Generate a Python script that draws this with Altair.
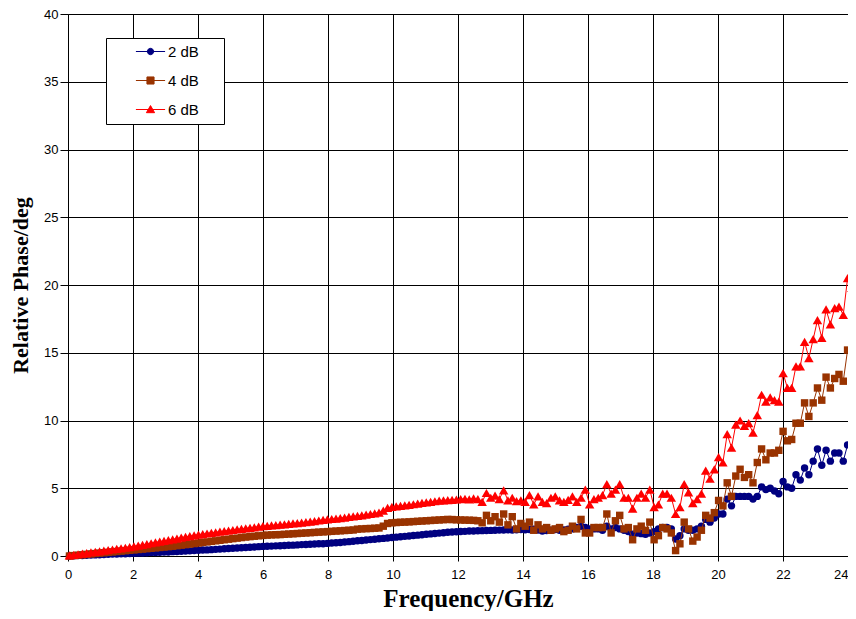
import altair as alt
import pandas as pd

# Frequency sweep: 45 MHz start, 0.132275 GHz step (VNA sweep grid)
F0 = 0.045
DF = 0.132275

series_names = ["2 dB", "4 dB", "6 dB"]
colors = ["#000080", "#993300", "#FF0000"]
shapes = ["circle", "square", "triangle-up"]
marker_sizes = [55, 55, 90]

phase_2db = [
    0.0, 0.01, 0.03, 0.04, 0.05, 0.07, 0.08, 0.09, 0.11, 0.12,
    0.14, 0.15, 0.16, 0.17, 0.19, 0.2, 0.21, 0.22, 0.24, 0.25,
    0.26, 0.28, 0.29, 0.3, 0.32, 0.33, 0.35, 0.36, 0.38, 0.4,
    0.42, 0.44, 0.45, 0.47, 0.49, 0.51, 0.53, 0.55, 0.57, 0.59,
    0.61, 0.63, 0.65, 0.67, 0.69, 0.71, 0.72, 0.73, 0.75, 0.76,
    0.77, 0.79, 0.8, 0.82, 0.84, 0.85, 0.87, 0.88, 0.9, 0.91,
    0.93, 0.96, 0.98, 1.0, 1.03, 1.06, 1.09, 1.12, 1.15, 1.18,
    1.21, 1.24, 1.27, 1.3, 1.33, 1.36, 1.39, 1.42, 1.45, 1.48,
    1.51, 1.54, 1.57, 1.6, 1.63, 1.66, 1.69, 1.72, 1.75, 1.77,
    1.79, 1.81, 1.82, 1.84, 1.85, 1.86,
    1.87, 1.88, 1.89, 1.9, 1.91, 1.92, 1.93, 1.92, 1.94, 1.95,
    1.93, 1.95, 1.97, 1.92, 1.85, 1.88, 1.9, 1.95, 1.9, 1.93,
    1.97, 2.0, 2.1,
    2.2, 2.1, 2.0, 2.0, 2.0, 1.9, 2.2, 2.0, 2.1, 2.0,
    1.9, 1.8, 1.6, 1.7, 1.65, 1.6, 1.7, 1.8, 2.0, 2.1,
    2.1, 2.0, 1.25, 1.5, 2.0, 1.9, 1.9, 2.0, 2.2, 2.7,
    2.5, 2.8, 3.1, 3.1, 4.2, 3.7, 4.4, 4.4, 4.4, 4.4,
    4.2, 4.4,
    5.1, 4.9, 5.0, 4.8, 4.6, 5.5, 5.1, 5.0, 6.0, 5.6,
    6.5, 6.0, 7.0, 7.9, 6.7, 7.8, 7.0, 7.6, 7.6, 7.0,
    8.2, 7.4,
]

phase_4db = [
    0.0, 0.03, 0.06, 0.09, 0.12, 0.15, 0.18, 0.21, 0.24, 0.27,
    0.3, 0.33, 0.36, 0.39, 0.42, 0.45, 0.48, 0.51, 0.54, 0.57,
    0.6, 0.63, 0.66, 0.69, 0.72, 0.76, 0.8, 0.84, 0.88, 0.92,
    0.96, 1.0, 1.04, 1.08, 1.12, 1.16, 1.2, 1.24, 1.28, 1.32,
    1.36, 1.4, 1.43, 1.46, 1.49, 1.52, 1.54, 1.56, 1.57, 1.58,
    1.6, 1.62, 1.64, 1.66, 1.68, 1.7, 1.72, 1.74, 1.76, 1.78,
    1.8, 1.82, 1.84, 1.86, 1.88, 1.9, 1.92, 1.98, 2.0, 2.02,
    2.03, 2.05, 2.07, 2.2, 2.4, 2.45, 2.47, 2.49, 2.5, 2.52,
    2.54, 2.56, 2.58, 2.6, 2.62, 2.64, 2.66, 2.68, 2.7, 2.69,
    2.67, 2.66, 2.65, 2.64, 2.63, 2.6,
    2.45, 3.0, 2.6, 2.9, 2.5, 3.1, 2.3, 2.9, 2.0, 2.4,
    2.2, 2.5, 1.9, 2.3, 2.0, 2.1, 1.9, 2.0, 2.1, 1.8,
    1.9, 2.2, 2.0,
    2.7, 1.7, 1.7, 2.1, 2.1, 2.1, 3.1, 1.7, 2.6, 3.0,
    2.0, 2.1, 1.2, 2.0, 2.2, 1.9, 2.5, 1.2, 1.5, 2.1,
    2.0, 1.7, 0.4, 0.9, 2.5, 2.0, 1.1, 1.4, 1.9, 3.0,
    2.8, 3.2, 4.1, 3.7, 5.4, 4.4, 5.9, 6.4, 5.8, 6.0,
    5.4, 6.9,
    7.9, 7.1, 7.6, 7.6, 7.8, 9.2, 8.5, 8.6, 9.8, 9.8,
    11.3, 10.3, 11.3, 12.4, 11.5, 13.2, 12.4, 13.1, 13.4, 12.9,
    15.2, 14.9,
]

phase_6db = [
    0.05, 0.09, 0.13, 0.17, 0.21, 0.26, 0.3, 0.34, 0.39, 0.43,
    0.48, 0.52, 0.57, 0.61, 0.66, 0.71, 0.76, 0.82, 0.88, 0.94,
    1.0, 1.06, 1.12, 1.17, 1.23, 1.29, 1.35, 1.41, 1.47, 1.52,
    1.57, 1.62, 1.66, 1.71, 1.75, 1.8, 1.84, 1.88, 1.92, 1.96,
    2.0, 2.04, 2.08, 2.12, 2.16, 2.2, 2.23, 2.26, 2.28, 2.31,
    2.34, 2.37, 2.4, 2.43, 2.46, 2.5, 2.54, 2.58, 2.62, 2.66,
    2.7, 2.73, 2.76, 2.8, 2.84, 2.88, 2.92, 2.96, 3.0, 3.05,
    3.1, 3.15, 3.2, 3.35, 3.55, 3.62, 3.67, 3.7, 3.74, 3.78,
    3.82, 3.87, 3.92, 3.96, 4.0, 4.04, 4.08, 4.11, 4.13, 4.15,
    4.17, 4.2, 4.22, 4.18, 4.25, 4.2,
    4.0, 4.65, 4.3, 4.45, 4.2, 4.85, 4.1, 4.3, 4.05, 4.1,
    4.0, 4.5, 3.8, 4.4, 4.0, 3.9, 4.3, 4.4, 4.1, 4.0,
    4.15, 4.4, 4.0,
    4.3, 4.9, 3.8, 4.2, 4.3, 4.5, 5.3, 4.6, 4.9, 5.3,
    4.3, 4.3, 3.5, 4.3, 4.6, 4.3, 4.9, 3.6, 3.8, 4.6,
    4.6, 4.3, 3.1, 3.6, 5.3, 4.7, 3.9, 4.2, 4.6, 6.3,
    5.7, 6.4, 7.3, 6.9, 9.0, 8.0, 9.7, 10.0, 9.6, 9.8,
    9.1, 10.4,
    11.9, 11.4, 11.7, 11.5, 11.4, 13.5, 12.4, 12.4, 14.0, 14.0,
    15.8, 14.6, 16.0, 17.4, 16.1, 18.2, 17.1, 18.3, 18.4, 17.8,
    20.5, 19.8,
]

x_ticks = list(range(0, 25, 2))
y_ticks = list(range(0, 41, 5))

n = len(phase_2db)
freq = [round(F0 + DF * i, 4) for i in range(n)]

rows = []
for name, vals in zip(series_names, [phase_2db, phase_4db, phase_6db]):
    for f, v in zip(freq, vals):
        rows.append({"f": f, "phase": v, "series": name})
df = pd.DataFrame(rows)

x_enc = alt.X(
    "f:Q",
    scale=alt.Scale(domain=[0, 24], nice=False, zero=False),
    axis=alt.Axis(
        title="Frequency/GHz", values=x_ticks, format="d",
        grid=True, gridColor="black", gridWidth=1, gridOpacity=1,
        domainColor="black", domainWidth=1,
        tickColor="black", tickSize=5, tickWidth=1,
        labelFont="Liberation Sans", labelFontSize=13, labelColor="black",
        labelPadding=7, labelFlush=False, labelOverlap=False,
        labelAlign={"condition": {"test": "datum.value >= 24", "value": "right"}, "value": "center"},
        titleFont="Liberation Serif", titleFontWeight="bold", titleFontSize=25,
        titleColor="black", titlePadding=5, titleX=400,
    ),
)
y_enc = alt.Y(
    "phase:Q",
    scale=alt.Scale(domain=[0, 40], nice=False),
    axis=alt.Axis(
        title="Relative Phase/deg", values=y_ticks, format="d",
        grid=True, gridColor="black", gridWidth=1, gridOpacity=1,
        domainColor="black", domainWidth=1,
        tickColor="black", tickSize=8, tickWidth=1,
        labelFont="Liberation Sans", labelFontSize=13, labelColor="black",
        labelPadding=2, labelFlush=False, labelOverlap=False,
        titleFont="Liberation Serif", titleFontWeight="bold", titleFontSize=22,
        titleColor="black", titlePadding=11,
    ),
)

layers = []
for name, col, shp, sz in zip(series_names, colors, shapes, marker_sizes):
    sub = alt.Chart(df).transform_filter(alt.datum.series == name)
    layers.append(sub.mark_line(color=col, strokeWidth=1).encode(x=x_enc, y=y_enc))
    layers.append(
        sub.mark_point(filled=True, shape=shp, size=sz, color=col, opacity=1).encode(x=x_enc, y=y_enc)
    )

legend_paths = [
    "M-3.9,0H3.9M0.85,0A0.85,0.85,0,1,1,-0.85,0A0.85,0.85,0,1,1,0.85,0Z",
    "M-3.9,0H3.9M-0.95,-0.95H0.95V0.95H-0.95Z",
    "M-3.9,0H3.9M0,-1.05L1.1,0.85H-1.1Z",
]

def make_legend():
    return alt.Legend(
        title="|", titleOrient="right", titleOpacity=0, titleFontSize=15,
        titlePadding=14,
        orient="none", legendX=38, legendY=24,
        padding=6, rowPadding=13, symbolSize=56, symbolStrokeWidth=1,
        symbolOffset=31, labelOffset=10, symbolOpacity=1,
        labelFont="Liberation Sans", labelFontSize=15, labelColor="black",
        strokeColor="black", fillColor="white", cornerRadius=0,
    )

legend_layer = (
    alt.Chart(df)
    .transform_filter("datum.f < -1")
    .mark_point(filled=True)
    .encode(
        x=x_enc, y=y_enc,
        fill=alt.Fill("series:N", scale=alt.Scale(domain=series_names, range=colors), legend=make_legend()),
        stroke=alt.Stroke("series:N", scale=alt.Scale(domain=series_names, range=colors), legend=make_legend()),
        shape=alt.Shape("series:N", scale=alt.Scale(domain=series_names, range=legend_paths), legend=make_legend()),
    )
)
layers.append(legend_layer)

chart = (
    alt.layer(*layers)
    .properties(
        width=780, height=542,
        padding={"left": 60, "top": 6, "right": 0, "bottom": 55},
        autosize=alt.AutoSizeParams(type="none"),
        background="white",
    )
    .configure_view(strokeWidth=0)
)

chart.save("out.html", embed_options={"renderer": "svg", "actions": False})
